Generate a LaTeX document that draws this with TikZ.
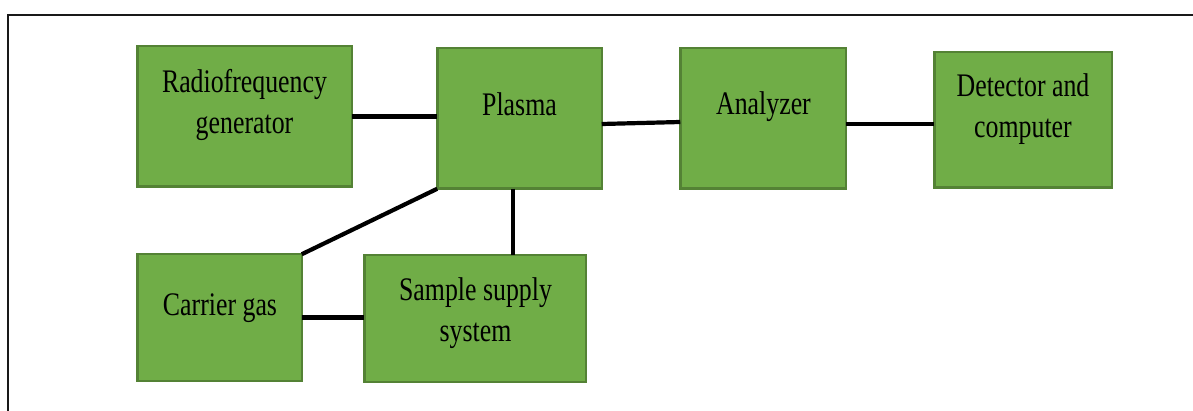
\documentclass[tikz,border=0pt]{standalone}
\usepackage{fontspec}
\setmainfont{Liberation Serif}
\usetikzlibrary{calc}
\definecolor{boxfill}{HTML}{70AD47}
\definecolor{boxline}{HTML}{548235}
\newcommand{\twol}[2]{\scalebox{0.785}[1]{\begin{tabular}[t]{@{}c@{}}#1\\#2\end{tabular}}}
\newcommand{\onel}[1]{\scalebox{0.785}[1]{#1}}
\begin{document}
\begin{tikzpicture}[x=1pt,y=-1pt,
  box/.style={draw=boxline, fill=boxfill, line width=2.5pt, inner sep=0pt, outer sep=0pt, rectangle},
  txt/.style={anchor=base, inner sep=0pt, font=\fontsize{32.9}{41}\selectfont, text=black},
  conn/.style={line width=4.2pt, black}]
\useasboundingbox (0,0) rectangle (1193,411);
\fill[white] (0,0) rectangle (1193,411);
% frame (top and left edges)
\draw[line width=1.6pt, black!90] (1193,15) -- (8,15) -- (8,411);
% boxes
\node[box, minimum width=214.5pt, minimum height=140.5pt] (rf) at (244.5,116.5) {};
\node[box, minimum width=164.5pt, minimum height=140.5pt] (plasma) at (519.5,118.5) {};
\node[box, minimum width=165.5pt, minimum height=140.5pt] (analyzer) at (763,118.5) {};
\node[box, minimum width=177.5pt, minimum height=135.5pt] (detector) at (1023,120) {};
\node[box, minimum width=164.5pt, minimum height=126.5pt] (carrier) at (219.5,317.5) {};
\node[box, minimum width=221.5pt, minimum height=126.5pt] (sample) at (475,318.5) {};
% texts
\node[txt] (trf) at (244.5,93) {\twol{Radiofrequency}{generator}};
\node[txt] (tpl) at (519.5,116) {\onel{Plasma}};
\node[txt] (tan) at (763.5,115) {\onel{Analyzer}};
\node[txt] (tde) at (1023,97) {\twol{Detector and}{computer}};
\node[txt] (tca) at (220,316) {\onel{Carrier gas}};
\node[txt] (tsa) at (475.5,301) {\twol{Sample supply}{system}};
% connectors
\draw[conn] (rf.east) -- (rf.east -| plasma.west);
\draw[conn] ([yshift=-5.5pt]plasma.east) -- ([yshift=-3.5pt]analyzer.west);
\draw[conn] ([yshift=-5.5pt]analyzer.east) -- ([yshift=-5.5pt]analyzer.east -| detector.west);
\draw[conn] (plasma.south west) -- (carrier.north east);
\draw[conn] ([xshift=-6.5pt]plasma.south) -- ([xshift=-6.5pt]plasma.south |- sample.north);
\draw[conn] (carrier.east) -- (carrier.east -| sample.west);
\end{tikzpicture}
\end{document}
